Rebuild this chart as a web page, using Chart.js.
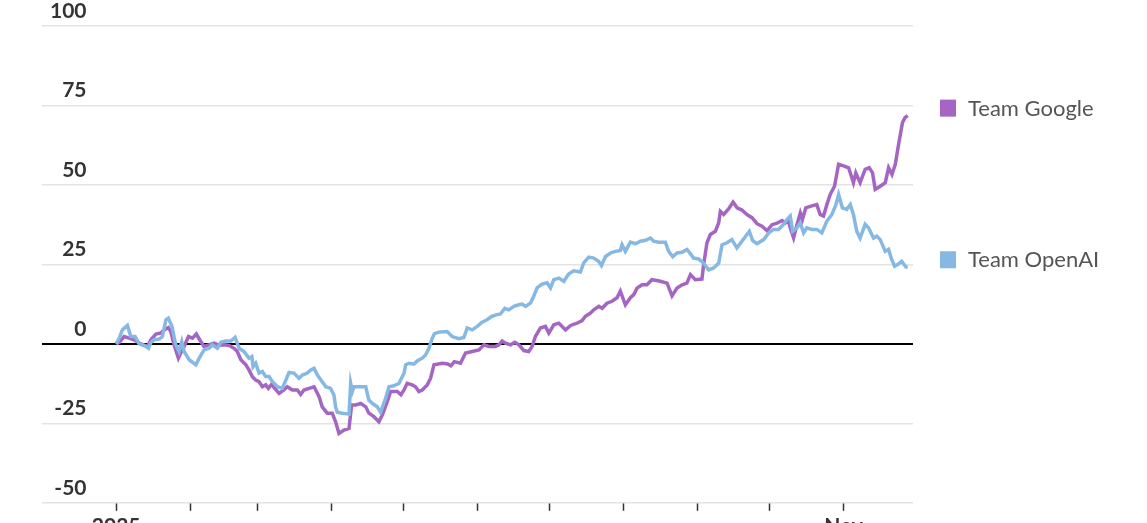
<!DOCTYPE html>
<html>
<head>
<meta charset="utf-8">
<script src="https://cdn.jsdelivr.net/npm/chart.js@4"></script>
<style>
  html, body { margin: 0; padding: 0; background: #fff; overflow: hidden; }
  #wrap { width: 1147px; height: 523px; overflow: hidden; }
</style>
</head>
<body>
<div id="wrap"><canvas id="myChart" width="1147" height="542"></canvas></div>
<script>
// days since 1 Jan 2025
const googleDays = [0, 1.3, 3.3, 5.4, 7.5, 10.3, 13.1, 14.5, 16.6, 18.7, 20.0, 21.8, 22.8, 24.2, 26.0, 27.0, 28.4, 30.2, 31.9, 33.5,
  34.9, 36.7, 38.8, 40.9, 43.0, 45.1, 47.2, 49.3, 50.6, 52.1, 54.2, 55.5, 56.9, 58.3, 59.7, 61.1, 62.5, 63.6, 65.0, 66.0,
  68.1, 70.1, 71.5, 73.6, 75.7, 77.1, 78.5, 80.6, 82.7, 84.8, 86.1, 88.2, 90.3, 91.7, 93.1, 95.2, 97.3, 98.4, 100.1, 102.2,
  104.3, 105.6, 107.7, 109.8, 111.2, 113.3, 114.7, 117.5, 119.0, 120.3, 121.6, 123.7, 125.1, 126.5, 127.9, 130.0, 131.4, 132.8, 136.3, 138.5,
  139.9, 141.3, 143.9, 146.0, 148.8, 151.6, 153.7, 155.7, 158.5, 159.9, 161.3, 162.7, 164.8, 166.6, 168.3, 170.4, 172.4, 173.8, 175.2, 177.3,
  179.4, 180.8, 182.9, 185.0, 187.8, 189.9, 192.6, 194.7, 196.1, 198.2, 199.6, 201.7, 203.1, 205.1, 207.2, 209.3, 210.7, 212.8, 214.9, 216.3,
  217.7, 219.8, 221.8, 223.9, 225.3, 227.4, 230.2, 232.3, 234.4, 236.5, 238.5, 240.0, 242.0, 244.8, 245.5, 246.9, 248.3, 250.4, 251.8, 252.5,
  253.9, 256.0, 257.8, 259.5, 261.5, 263.6, 265.7, 267.8, 269.9, 272.0, 274.1, 276.2, 278.3, 279.6, 281.0, 281.7, 283.1, 284.5, 285.9, 286.8,
  288.2, 290.7, 292.8, 294.2, 295.6, 297.0, 298.4, 300.2, 301.9, 304.0, 306.1, 308.1, 309.1, 310.9, 313.0, 314.7, 316.1, 317.2, 319.3, 321.4,
  322.8, 324.2, 325.6, 327.1, 328.6, 329.7, 330.8];
const googleValues = [0, 0.5, 2.3, 1.8, 1.3, 0, -0.8, 1.3, 3.1, 3.4, 4.4, 5.1, 3.9, -0.3, -4.5, -2.9, -0.8, 2.3, 1.8, 3.1,
  1.3, -0.8, -0.3, 0.2, -0.5, -0.3, -0.5, -1.4, -2.4, -5.0, -6.6, -8.2, -10.3, -11.4, -11.9, -13.5, -12.9, -14.0, -12.7, -13.8,
  -15.6, -14.5, -13.5, -14.5, -14.5, -15.9, -14.5, -14.0, -13.5, -16.6, -19.8, -21.8, -21.8, -24.5, -28.2, -27.1, -26.6, -19.2, -19.2, -18.7,
  -19.8, -21.8, -22.9, -24.5, -22.4, -18.2, -15.0, -15.0, -16.0, -14.5, -12.4, -12.9, -13.5, -15.0, -14.5, -12.9, -10.8, -6.6, -6.1, -6.3,
  -6.9, -5.6, -6.1, -2.9, -2.4, -1.9, -0.3, -0.8, -0.8, -0.3, 0.9, 0.2, -0.3, 0.5, -0.3, -2.1, -2.4, -0.8, 2.3, 5.0,
  5.5, 3.4, 6.0, 6.5, 4.4, 5.8, 6.5, 7.3, 8.7, 9.7, 10.7, 11.8, 11.2, 12.8, 13.4, 14.5, 16.6, 12.3, 14.5, 15.5,
  17.6, 18.6, 18.6, 20.2, 20.0, 19.7, 19.1, 15.1, 17.6, 18.6, 19.1, 21.8, 20.2, 20.4, 24.9, 31.8, 34.4, 35.4, 38.1, 41.7,
  40.7, 42.5, 44.6, 42.8, 42.1, 40.7, 39.7, 37.8, 37.0, 35.6, 37.5, 38.0, 38.8, 38.0, 38.6, 36.5, 33.3, 37.5, 41.2, 39.1,
  42.8, 43.4, 43.8, 40.7, 40.2, 43.8, 47.0, 49.6, 56.5, 56.0, 55.4, 50.7, 53.8, 50.7, 54.9, 55.4, 53.8, 48.6, 49.6, 50.7,
  55.4, 53.3, 56.5, 63.3, 69.6, 71.2, 71.8];

const openaiDays = [0, 1.3, 2.6, 4.7, 6.1, 7.9, 9.6, 12.4, 13.5, 14.5, 15.9, 18.0, 19.3, 20.8, 21.8, 23.3, 24.9, 26.3, 27.4, 28.4,
  30.5, 33.3, 34.7, 36.7, 38.8, 40.2, 42.3, 43.7, 45.8, 47.9, 49.7, 51.4, 53.4, 55.5, 56.7, 57.2, 58.3, 59.7, 61.1, 62.5,
  63.9, 65.3, 67.4, 69.4, 70.9, 72.2, 74.3, 76.4, 77.8, 79.9, 81.3, 82.7, 84.1, 86.1, 87.6, 89.6, 91.0, 91.7, 92.4, 94.5,
  97.3, 98.0, 98.7, 99.4, 101.5, 104.3, 105.6, 107.0, 109.1, 110.5, 112.6, 114.0, 116.1, 118.2, 120.3, 121.0, 122.3, 124.4, 125.8, 127.9,
  129.3, 130.7, 132.1, 133.0, 134.9, 138.3, 140.4, 143.2, 145.3, 146.7, 148.8, 150.9, 152.9, 155.0, 157.1, 159.2, 160.6, 162.4, 164.1, 166.2,
  168.3, 169.6, 171.1, 173.2, 174.5, 175.9, 178.0, 180.1, 181.5, 182.9, 185.0, 187.1, 189.1, 191.2, 194.0, 195.4, 197.5, 199.6, 201.7, 202.8,
  204.5, 206.6, 208.6, 210.7, 211.4, 212.8, 214.9, 217.0, 219.1, 221.2, 223.3, 224.6, 226.7, 229.5, 230.9, 232.6, 234.4, 236.5, 238.5, 239.7,
  241.3, 243.4, 245.5, 247.6, 249.7, 251.8, 253.2, 255.3, 257.3, 259.4, 261.5, 263.6, 264.6, 266.0, 267.8, 270.6, 272.7, 274.7, 276.8, 278.9,
  280.3, 281.7, 282.7, 284.5, 285.9, 287.3, 288.6, 290.7, 292.8, 294.9, 297.0, 299.1, 300.8, 301.9, 303.5, 305.3, 306.8, 308.1, 309.5, 310.9,
  313.0, 314.4, 316.5, 317.9, 319.3, 321.4, 322.8, 323.9, 325.3, 326.9, 328.3, 330.0, 330.8];
const openaiValues = [0, 1.8, 4.4, 5.8, 2.3, 2.3, 0, -0.8, -1.4, 0.5, 1.3, 1.5, 2.3, 7.6, 8.1, 5.5, -0.3, -2.4, 0.7, -2.4,
  -5.0, -6.6, -4.5, -1.9, -1.4, -0.3, -1.4, 0.5, 0.9, 0.9, 2.0, -1.4, -2.4, -4.5, -4.0, -7.2, -6.1, -9.2, -8.7, -10.3,
  -10.3, -11.9, -13.5, -14.0, -11.4, -9.0, -9.2, -10.8, -9.8, -9.2, -8.2, -7.7, -9.8, -11.9, -13.5, -14.0, -16.1, -19.8, -21.5, -21.8,
  -22.1, -12.4, -15.0, -13.5, -13.5, -13.5, -17.7, -18.7, -19.8, -21.5, -17.1, -13.5, -13.2, -12.4, -9.2, -6.6, -6.1, -6.4, -5.4, -4.5,
  -3.5, -1.4, 1.8, 3.2, 3.7, 3.9, 2.3, 1.6, 2.0, 5.0, 4.4, 5.5, 6.8, 7.6, 8.7, 9.2, 9.4, 11.2, 10.7, 11.8,
  12.3, 12.5, 11.8, 12.9, 15.0, 17.6, 18.8, 19.2, 17.6, 20.2, 20.7, 19.7, 22.0, 23.0, 22.6, 25.5, 27.3, 27.0, 25.9, 24.6,
  27.5, 28.6, 29.1, 29.4, 31.2, 29.1, 32.0, 31.5, 32.3, 32.6, 33.3, 32.3, 32.0, 32.0, 29.1, 27.4, 28.6, 28.8, 29.7, 28.6,
  27.0, 26.7, 25.4, 23.3, 23.9, 25.4, 31.2, 31.8, 32.8, 30.2, 32.3, 34.4, 35.4, 32.5, 31.5, 32.8, 34.9, 36.0, 36.0, 37.6,
  39.1, 40.2, 35.4, 36.5, 38.0, 34.9, 36.5, 36.0, 36.0, 34.9, 38.6, 40.7, 43.8, 47.0, 42.8, 42.3, 43.8, 40.7, 35.4, 33.3,
  37.6, 36.5, 33.3, 33.9, 32.8, 29.1, 29.7, 27.0, 24.4, 25.1, 26.0, 24.2, 24.1];

const monthTicks = [0, 31, 59, 90, 120, 151, 181, 212, 243, 273, 304];
const monthLabels = ['2025', '', '', '', '', '', '', '', '', '', 'Nov'];
const yTicks = [-50, -25, 0, 25, 50, 75, 100];

const googleColor = '#a466c2';
const openaiColor = '#86b8e4';

// legend squares + names next to where each line ends
const endLabels = {
  id: 'endLabels',
  afterDraw(chart) {
    const c = chart.ctx;
    const y = chart.scales.y;
    const left = chart.chartArea.right + 27;
    chart.data.datasets.forEach(ds => {
      const last = ds.data[ds.data.length - 1].y;
      const py = y.getPixelForValue(last) - 8;
      c.save();
      c.fillStyle = ds.borderColor;
      c.fillRect(left, py - 8, 16, 17);
      c.fillStyle = '#555';
      c.font = '22px Lato';
      c.textBaseline = 'middle';
      c.fillText(ds.label, left + 28, py + 1);
      c.restore();
    });
  }
};

const ctx = document.getElementById('myChart');

new Chart(ctx, {
  type: 'line',
  data: {
    datasets: [{
      label: 'Team Google',
      data: googleDays.map((d, i) => ({ x: d, y: googleValues[i] })),
      borderColor: googleColor,
      borderWidth: 3.5,
      pointRadius: 0,
      order: 1
    }, {
      label: 'Team OpenAI',
      data: openaiDays.map((d, i) => ({ x: d, y: openaiValues[i] })),
      borderColor: openaiColor,
      borderWidth: 3.5,
      pointRadius: 0,
      order: 0
    }]
  },
  options: {
    responsive: false,
    animation: false,
    layout: { padding: { left: 26, right: 234, top: 26, bottom: 0 } },
    plugins: { legend: { display: false }, tooltip: { enabled: false } },
    scales: {
      x: {
        type: 'linear',
        min: -31,
        max: 333,
        afterBuildTicks: s => { s.ticks = monthTicks.map(v => ({ value: v })); },
        border: { display: false },
        grid: { drawOnChartArea: false, drawTicks: true, tickLength: 8, tickColor: '#333', tickWidth: 1.5 },
        ticks: {
          autoSkip: false, maxRotation: 0, padding: 3, color: '#333',
          font: { family: 'Lato', size: 21, weight: 'bold' },
          callback: (v, i) => monthLabels[i]
        }
      },
      y: {
        min: -50,
        max: 100,
        afterBuildTicks: s => { s.ticks = yTicks.map(v => ({ value: v })); },
        border: { display: false },
        grid: {
          drawTicks: false,
          color: c => c.tick.value === 0 ? '#000' : '#e3e3e3',
          lineWidth: c => c.tick.value === 0 ? 2 : 1.5
        },
        ticks: {
          mirror: true, crossAlign: 'far', padding: 8, labelOffset: -15, color: '#333',
          font: { family: 'Lato', size: 21, weight: 'bold' }
        }
      }
    }
  },
  plugins: [endLabels]
});
</script>
</body>
</html>
